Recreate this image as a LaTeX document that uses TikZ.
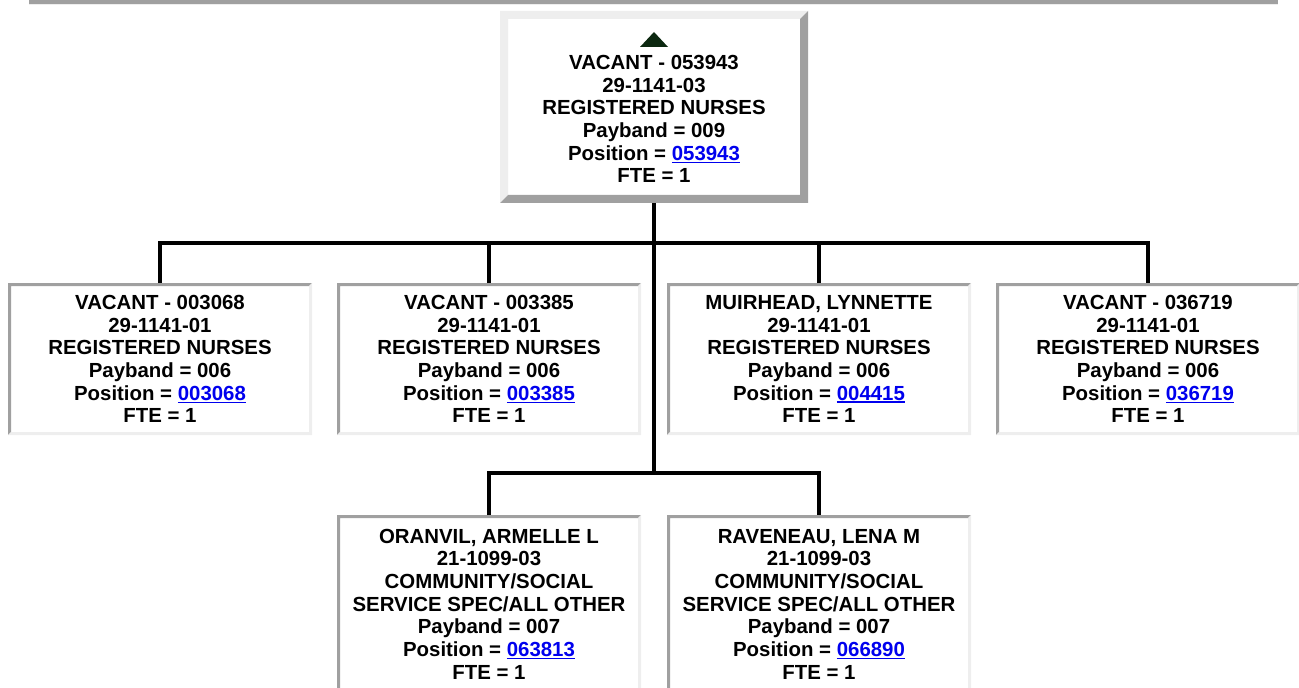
\documentclass[tikz,border=0pt]{standalone}
\usepackage{fontspec}
\setmainfont{Liberation Sans}
\usetikzlibrary{calc}
\definecolor{BevelDark}{RGB}{160,160,160}
\definecolor{BevelLight}{RGB}{238,238,238}
\definecolor{LinkBlue}{RGB}{0,0,238}
\definecolor{MarkGreen}{RGB}{12,40,16}
\newcommand\poslink[1]{{\color{LinkBlue}\setbox0\hbox{#1}\rlap{\rule[-2.2pt]{\wd0}{1.1pt}}\box0}}
% bevel: node, border width, top/left colour, bottom/right colour
\newcommand\bevelframe[4]{%
  \fill[#3] (#1.south west) -- (#1.north west) -- (#1.north east)
    -- ($(#1.north east)+(-#2,#2)$) -- ($(#1.north west)+(#2,#2)$)
    -- ($(#1.south west)+(#2,-#2)$) -- cycle;
  \fill[#4] (#1.south west) -- (#1.south east) -- (#1.north east)
    -- ($(#1.north east)+(-#2,#2)$) -- ($(#1.south east)+(-#2,-#2)$)
    -- ($(#1.south west)+(#2,-#2)$) -- cycle;}

\begin{document}
\begin{tikzpicture}[x=0.75pt,y=-0.75pt,
    posbox/.style={fill=white,inner sep=0pt,outer sep=0pt,align=center,
      minimum width=228pt,font=\fontsize{15.3}{17}\selectfont\bfseries},
    conn/.style={line width=3pt,line join=miter}]
  \useasboundingbox (0,0) rectangle (1299,688);
  \fill[BevelDark] (29,0) rectangle (1278,4);
  \fill[BevelLight] (29,4) rectangle (1278,5.5);

  \node[posbox,minimum width=231pt,minimum height=144pt] (top) at (654,107)
    {\strut\\ VACANT - 053943\\ 29-1141-03\\ REGISTERED NURSES\\
     Payband = 009\\ Position = \poslink{053943}\\ FTE = 1};
  \bevelframe{top}{8}{BevelLight}{BevelDark}
  \fill[MarkGreen] ($(top.north)+(-14,36)$) -- ($(top.north)+(14,36)$)
    -- ($(top.north)+(0,21)$) -- cycle;

  \node[posbox,minimum height=114pt] (rn1) at (160,359)
    {VACANT - 003068\\ 29-1141-01\\ REGISTERED NURSES\\
     Payband = 006\\ Position = \poslink{003068}\\ FTE = 1};
  \node[posbox,minimum height=114pt] (rn2) at (489,359)
    {VACANT - 003385\\ 29-1141-01\\ REGISTERED NURSES\\
     Payband = 006\\ Position = \poslink{003385}\\ FTE = 1};
  \node[posbox,minimum height=114pt] (rn3) at (819,359)
    {MUIRHEAD, LYNNETTE\\ 29-1141-01\\ REGISTERED NURSES\\
     Payband = 006\\ Position = \poslink{004415}\\ FTE = 1};
  \node[posbox,minimum height=114pt] (rn4) at (1148,359)
    {VACANT - 036719\\ 29-1141-01\\ REGISTERED NURSES\\
     Payband = 006\\ Position = \poslink{036719}\\ FTE = 1};

  \node[posbox,minimum height=133.5pt] (cs1) at (489,604)
    {ORANVIL, ARMELLE L\\ 21-1099-03\\ COMMUNITY/SOCIAL\\
     SERVICE SPEC/ALL OTHER\\ Payband = 007\\ Position = \poslink{063813}\\ FTE = 1};
  \node[posbox,minimum height=133.5pt] (cs2) at (819,604)
    {RAVENEAU, LENA M\\ 21-1099-03\\ COMMUNITY/SOCIAL\\
     SERVICE SPEC/ALL OTHER\\ Payband = 007\\ Position = \poslink{066890}\\ FTE = 1};

  \foreach \b in {rn1,rn2,rn3,rn4,cs1,cs2}
    \bevelframe{\b}{3}{BevelDark}{BevelLight};

  \coordinate (hub1) at (654,243);
  \coordinate (hub2) at (654,473);
  \draw[conn] (top.south) -- (hub2);
  \draw[conn] (rn1.north) |- (hub1) -| (rn4.north);
  \draw[conn] (rn2.north) -- (rn2.north |- hub1);
  \draw[conn] (rn3.north) -- (rn3.north |- hub1);
  \draw[conn] (cs1.north) |- (hub2) -| (cs2.north);
\end{tikzpicture}
\end{document}
